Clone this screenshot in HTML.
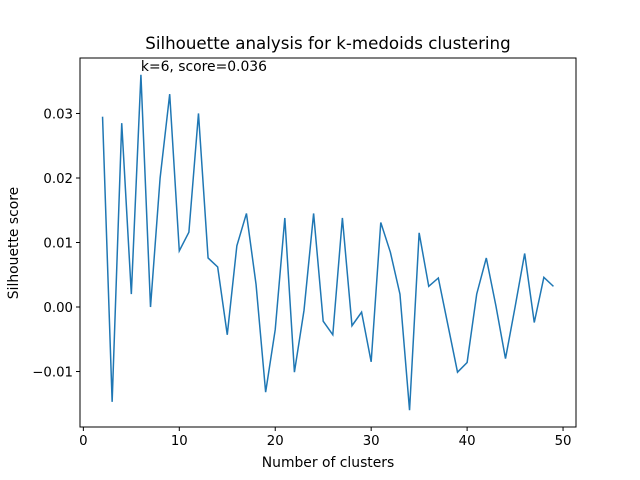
<!DOCTYPE html>
<html><head><meta charset="utf-8"><style>
body{margin:0;background:#fff}
svg{display:block;font-family:"DejaVu Sans","Liberation Sans",sans-serif}
</style></head><body>
<svg id="chart" width="640" height="480">
<rect width="640" height="480" fill="#fff"/>
<text x="328" y="49" text-anchor="middle" font-size="16.67">Silhouette analysis for k-medoids clustering</text>
<text x="328" y="467" text-anchor="middle" font-size="13.9">Number of clusters</text>
<text transform="translate(18,243) rotate(-90)" text-anchor="middle" font-size="13.9">Silhouette score</text>
<g id="xt"></g><g id="yt"></g>
<path id="line" fill="none" stroke="#1f77b4" stroke-width="1.5"/>
<text id="ann" font-size="13.9"></text>
<rect x="80" y="58" width="496" height="369" fill="none" stroke="#000" stroke-width="1"/>
</svg>
<script>
const ks = [];
for (let k = 2; k <= 49; k++) ks.push(k);
const scores = [0.0295,-0.0147,0.0285,0.002,0.036,0.0,0.020,0.033,0.0087,0.0116,0.030,0.0076,0.0062,-0.0043,0.0095,0.0145,0.0035,-0.0132,-0.0035,0.0138,-0.0101,-0.0005,0.0145,-0.0022,-0.0043,0.0138,-0.0029,-0.0008,-0.0085,0.0131,0.0085,0.002,-0.016,0.0115,0.0032,0.0045,-0.0028,-0.0101,-0.0086,0.002,0.0076,0.0002,-0.008,0.0,0.0083,-0.0024,0.0046,0.0032];
const xTicks = [0,10,20,30,40,50];
const yTicks = [-0.01,0.0,0.01,0.02,0.03];
const yTickLabels = ["\u22120.01","0.00","0.01","0.02","0.03"];

const L=80,R=576,T=58,B=427;
const xmin=Math.min(...ks),xmax=Math.max(...ks),xm=(xmax-xmin)*0.05;
const ymin=Math.min(...scores),ymax=Math.max(...scores),ym=(ymax-ymin)*0.05;
const X=v=>L+(v-(xmin-xm))/((xmax+xm)-(xmin-xm))*(R-L);
const Y=v=>B-(v-(ymin-ym))/((ymax+ym)-(ymin-ym))*(B-T);
const NS="http://www.w3.org/2000/svg";
const xt=document.getElementById('xt'),yt=document.getElementById('yt');
xTicks.forEach(t=>{
  const x=X(t);
  const l=document.createElementNS(NS,'line');
  l.setAttribute('x1',x);l.setAttribute('x2',x);l.setAttribute('y1',B);l.setAttribute('y2',B+4);l.setAttribute('stroke','#000');
  
  
  xt.appendChild(l);
  const s=document.createElementNS(NS,'text');
  s.setAttribute('x',x);s.setAttribute('y',B+18);s.setAttribute('text-anchor','middle');s.setAttribute('font-size','13.3');
  s.textContent=t;
  
  
  xt.appendChild(s);
});
yTicks.forEach((t,i)=>{
  const y=Y(t);
  const l=document.createElementNS(NS,'line');
  l.setAttribute('x1',L-4);l.setAttribute('x2',L);l.setAttribute('y1',y);l.setAttribute('y2',y);l.setAttribute('stroke','#000');
  
  
  yt.appendChild(l);
  const s=document.createElementNS(NS,'text');
  s.setAttribute('x',L-7);s.setAttribute('y',y+5);s.setAttribute('text-anchor','end');s.setAttribute('font-size','13.3');
  s.textContent=yTickLabels[i];
  
  
  yt.appendChild(s);
});
document.getElementById('line').setAttribute('d',ks.map((k,i)=>(i?'L':'M')+X(k).toFixed(2)+','+Y(scores[i]).toFixed(2)).join(''));
let bi=0;scores.forEach((s,i)=>{if(s>scores[bi])bi=i;});
const ann=document.getElementById('ann');
ann.setAttribute('x',X(ks[bi]));ann.setAttribute('y',Y(scores[bi])-4);
ann.textContent='k='+ks[bi]+', score='+scores[bi].toFixed(3);
</script>
</body></html>
